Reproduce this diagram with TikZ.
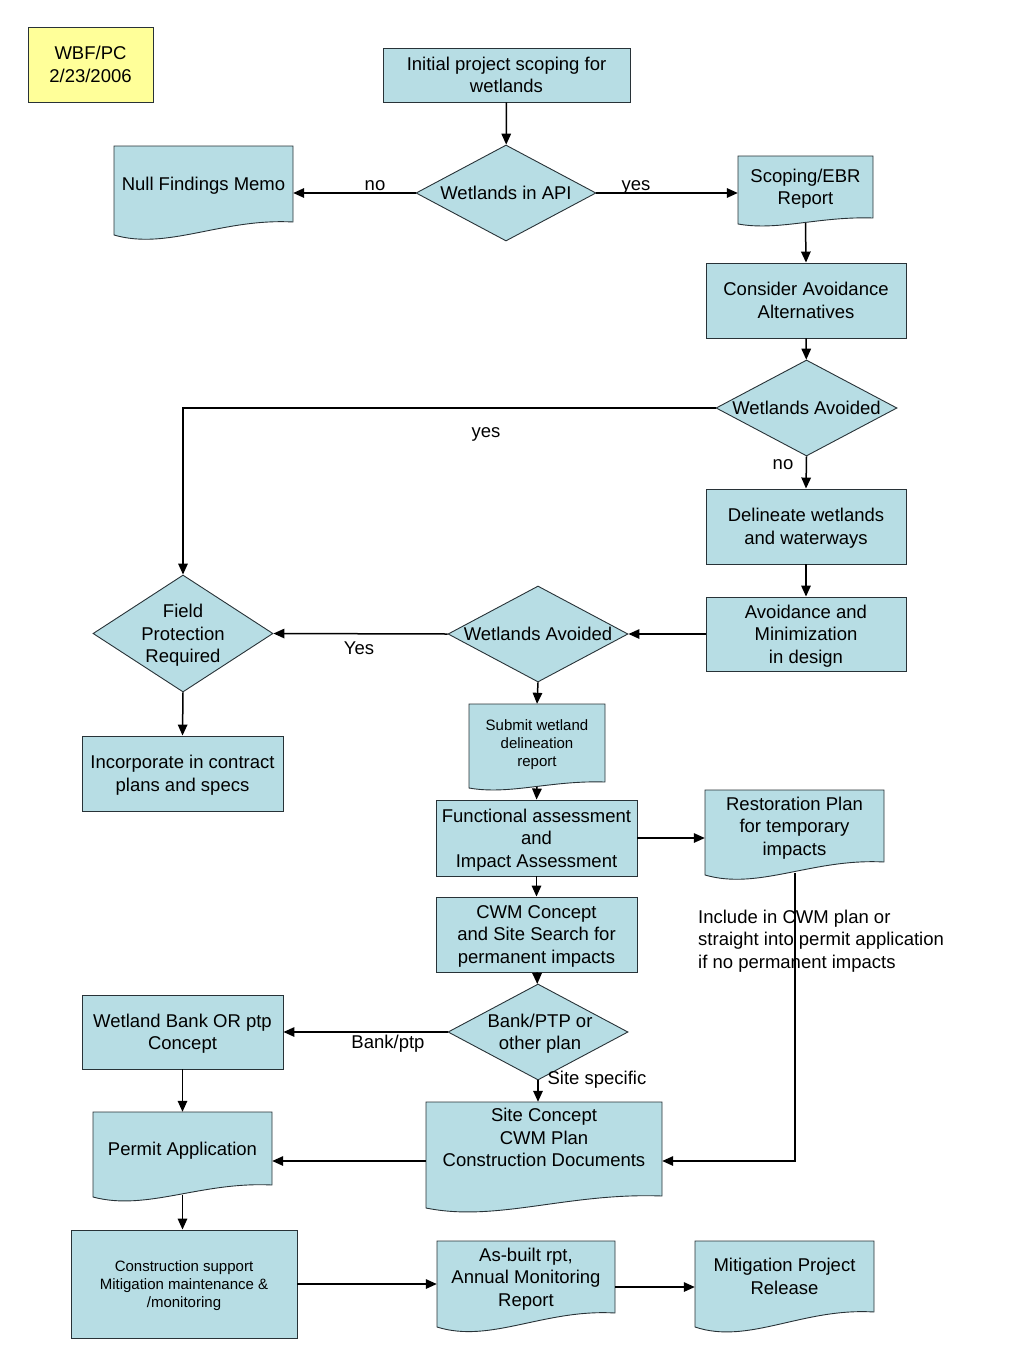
\documentclass[tikz,border=0pt]{standalone}
\usepackage{fontspec}
\setmainfont{Liberation Sans}
\usetikzlibrary{shapes.geometric,arrows.meta}
\definecolor{boxc}{RGB}{183,221,228}
\definecolor{notec}{RGB}{255,255,153}
\definecolor{edgec}{RGB}{40,50,55}
\tikzset{
 basefont/.style={font=\fontsize{18.5}{22.5}\selectfont, text=black, text depth=0pt},
 smallfont/.style={font=\fontsize{15}{18}\selectfont},
 rbox/.style={basefont, draw=edgec, line width=0.9pt, fill=boxc, rectangle, align=center, inner sep=2pt},
 docline/.style={draw=edgec, line width=0.9pt, fill=boxc},
 doctext/.style={basefont, align=center, inner sep=0pt, rectangle},
 dia/.style={draw=edgec, line width=0.9pt, fill=boxc, diamond, inner sep=0pt},
 arr/.style={-{Triangle[length=11pt,width=9.5pt]}, line width=1.5pt, black},
 lbl/.style={basefont, inner sep=0pt},
}
\newcommand\docnode[8][]{%
  \filldraw[docline] (#3,#4) -- (#5,#4) -- (#5,#6) .. controls ({#3+0.6*(#5-#3)},{#6-0.3*#7}) and ({#3+0.3*(#5-#3)},{#6+2.2*#7}) .. (#3,{#6+#7}) -- cycle;
  \node[doctext, #1, minimum width={#5-#3}, minimum height={#6-#4}] (#2) at ({(#3+#5)/2},{(#4+#6)/2}) {#8};
  \coordinate (#2-bot) at ({(#3+#5)/2},{#6+0.84*#7});
}
\begin{document}
\begin{tikzpicture}[x=1pt,y=-1pt]
\useasboundingbox (0,0) rectangle (1024,1365);

% note
\node[rbox, fill=notec, minimum width=125, minimum height=75] (wbf) at (90.5,64.5) {WBF/PC\\2/23/2006};

% rectangles
\node[rbox, minimum width=247, minimum height=54] (init) at (506.5,75) {Initial project scoping for\\wetlands};
\node[rbox, minimum width=200, minimum height=75] (consider) at (806,300.5) {Consider Avoidance\\Alternatives};
\node[rbox, minimum width=200, minimum height=75] (delin) at (806,526.5) {Delineate wetlands\\and waterways};
\node[rbox, minimum width=200, minimum height=74] (avoid) at (806,634) {Avoidance and\\Minimization\\in design};
\node[rbox, minimum width=201, minimum height=75] (incorp) at (182.5,773.5) {Incorporate in contract\\plans and specs};
\node[rbox, minimum width=201, minimum height=76] (func) at (536.5,838) {Functional assessment\\and\\Impact Assessment};
\node[rbox, minimum width=201, minimum height=75] (cwm) at (536.5,934.5) {CWM Concept\\and Site Search for\\permanent impacts};
\node[rbox, minimum width=201, minimum height=74] (bank) at (182.5,1032) {Wetland Bank OR ptp\\Concept};
\node[rbox, smallfont, minimum width=226, minimum height=108] (cons) at (184,1284) {Construction support\\Mitigation maintenance \&\\/monitoring};

% diamonds
\node[dia, minimum width=180, minimum height=96, label={[basefont]center:Wetlands in API}] (api) at (506,193) {};
\node[dia, minimum width=181, minimum height=96, label={[basefont]center:Wetlands Avoided}] (av1) at (806.5,408) {};
\node[dia, minimum width=180, minimum height=96, label={[basefont]center:Wetlands Avoided}] (av2) at (538,634) {};
\node[dia, minimum width=180, minimum height=117, label={[basefont, align=center]center:Field\\Protection\\Required}] (field) at (183,633.5) {};
\node[dia, minimum width=180, minimum height=96, label={[basefont, align=center, xshift=2pt]center:Bank/PTP or\\other plan}] (bptp) at (538,1032) {};

% documents
\docnode{null}{114}{146}{293}{222}{13}{Null Findings Memo}
\docnode{scop}{738}{156}{873}{218}{6}{Scoping/EBR\\Report}
\docnode[smallfont]{subm}{469}{704}{605}{782}{6}{Submit wetland\\delineation\\report}
\docnode{rest}{705}{790}{884}{862}{13}{Restoration Plan\\for temporary\\impacts}
\docnode{permit}{93}{1112}{272}{1185}{12}{Permit Application}
\docnode{site}{426}{1102}{662}{1196}{12}{Site Concept\\CWM Plan\\Construction Documents\\\mbox{}}
\docnode{asb}{437}{1241}{615}{1313}{14}{As-built rpt,\\Annual Monitoring\\Report}
\docnode{mit}{695}{1241}{874}{1312}{15}{Mitigation Project\\Release}

% free text
\node[lbl, anchor=west, align=left] (note) at (698,939) {Include in CWM plan or\\straight into permit application\\if no permanent impacts};

% connectors
\draw[arr] (init) -- (api);
\draw[arr] (api.west) -- (api.west -| null.east);
\draw[arr] (api.east) -- (api.east -| scop.west);
\draw[arr] (scop-bot) -- (consider.north);
\draw[arr] (consider) -- (av1);
\draw[arr] (av1.west) -| (field.north);
\draw[arr] (av1.south) -- (delin.north);
\draw[arr] (delin) -- (avoid);
\draw[arr] (avoid.west) -- (av2.east);
\draw[arr] (av2.west) -- (field.east);
\draw[arr] (av2.south) -- (subm.north);
\draw[arr] (field.south) -- (incorp.north);
\draw[arr] (subm-bot) -- (func.north);
\draw[arr] (func.east) -- (func.east -| rest.west);
\draw[arr] (func) -- (cwm);
\draw[arr] (cwm) -- (bptp);
\draw[arr] (bptp.west) -- (bank.east);
\draw[arr] (bptp.south) -- (bptp.south |- site.north);
\draw[arr] (bank) -- (permit);
\coordinate (rturn) at (795,1161);
\draw[arr] (rest-bot -| rturn) -- (rturn) -- (rturn -| site.east);
\draw[arr] (site.west |- rturn) -- (rturn -| permit.east);
\draw[arr] (permit-bot) -- (permit-bot |- cons.north);
\draw[arr] (cons.east) -- (cons.east -| asb.west);
\draw[arr] ([yshift=-10pt]asb.east) -- ([yshift=-10pt]asb.east -| mit.west);

% connector labels
\node[lbl] (lno1) at (375,186) {no};
\node[lbl] (lyes1) at (636,186) {yes};
\node[lbl] (lyes2) at (486,433) {yes};
\node[lbl] (lno2) at (783,465) {no};
\node[lbl] (lyes3) at (359,648) {Yes};
\node[lbl] (lbank) at (388,1042) {Bank/ptp};
\node[lbl] (lsite) at (597,1078) {Site specific};
\end{tikzpicture}
\end{document}
